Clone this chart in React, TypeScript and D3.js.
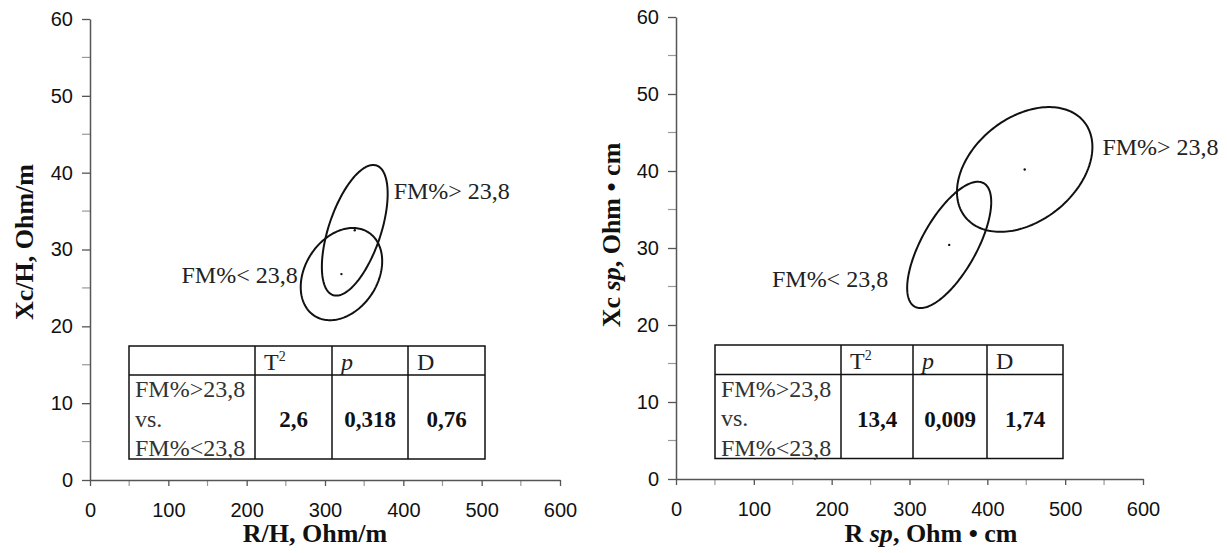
import React, { useEffect, useRef } from "react";
import * as d3 from "d3";

const xTicks = [0, 100, 200, 300, 400, 500, 600];
const yTicks = [0, 10, 20, 30, 40, 50, 60];
const xMinorTicks = [50, 150, 250, 350, 450, 550];
const yMinorTicks = [5, 15, 25, 35, 45, 55];
const groupLabels = ["FM%> 23,8", "FM%< 23,8"];

// left panel: R/H vs Xc/H (group means + confidence ellipse half-widths, correlation)
const leftMeanR = [338, 321];
const leftMeanXc = [32.5, 26.8];
const leftSpreadR = [42, 52];
const leftSpreadXc = [8.5, 6];
const leftCorr = [0.56, 0.28];

// right panel: R sp vs Xc sp
const rightMeanR = [448, 351];
const rightMeanXc = [40.2, 30.4];
const rightSpreadR = [87, 54];
const rightSpreadXc = [8.1, 8.2];
const rightCorr = [0.36, 0.68];

const statHeaders = ["", "T", "p", "D"];
const rowLines = ["FM%>23,8", "vs.", "FM%<23,8"];
const leftStats = ["2,6", "0,318", "0,76"];
const rightStats = ["13,4", "0,009", "1,74"];

const SERIF = "'Liberation Serif', 'Times New Roman', serif";
const SANS = "'Liberation Sans', Arial, sans-serif";

const panels = [
  {
    left: 90, right: 560, bottom: 480, top: 19,
    xTitle: [["R/H, Ohm/m", false]], xTitleX: 315,
    yTitle: [["Xc/H, Ohm/m", false]], yTitleX: 33, yTitleY: 242,
    meanR: leftMeanR, meanXc: leftMeanXc, spreadR: leftSpreadR, spreadXc: leftSpreadXc, corr: leftCorr,
    labelOffsets: [[6, 5], [-3, -4]],
    table: { x: 129, y: 346, cols: [126, 77, 76, 77], rows: [29, 84] },
    stats: leftStats
  },
  {
    left: 676, right: 1143, bottom: 479, top: 17,
    xTitle: [["R ", false], ["sp", true], [", Ohm \u2022 cm", false]], xTitleX: 931,
    yTitle: [["Xc ", false], ["sp", true], [", Ohm \u2022 cm", false]], yTitleX: 620, yTitleY: 235,
    meanR: rightMeanR, meanXc: rightMeanXc, spreadR: rightSpreadR, spreadXc: rightSpreadXc, corr: rightCorr,
    labelOffsets: [[10, 8], [-19, -1]],
    table: { x: 715, y: 345, cols: [126, 72, 74, 76], rows: [29.5, 84] },
    stats: rightStats
  }
];

function drawPanel(svg, p) {
  const g = svg.append("g");
  const x = d3.scaleLinear().domain([0, 600]).range([p.left, p.right]);
  const y = d3.scaleLinear().domain([0, 60]).range([p.bottom, p.top]);

  // minor ticks (lighter)
  g.selectAll(".xminor").data(xMinorTicks).join("line")
    .attr("x1", d => x(d)).attr("x2", d => x(d))
    .attr("y1", y(0)).attr("y2", y(0) + 6)
    .attr("stroke", "#999").attr("stroke-width", 1.2);
  g.selectAll(".yminor").data(yMinorTicks).join("line")
    .attr("x1", x(0) - 8).attr("x2", x(0))
    .attr("y1", d => y(d)).attr("y2", d => y(d))
    .attr("stroke", "#999").attr("stroke-width", 1.2);

  const yAxis = g.append("g")
    .attr("transform", `translate(${x(0)},0)`)
    .call(d3.axisLeft(y).tickValues(yTicks).tickSize(8).tickSizeOuter(0).tickPadding(9));
  const xAxis = g.append("g")
    .attr("transform", `translate(0,${y(0)})`)
    .call(d3.axisBottom(x).tickValues(xTicks).tickSize(6).tickSizeOuter(0));

  [xAxis, yAxis].forEach(a => {
    a.select(".domain").attr("stroke", "#555").attr("stroke-width", 1.5);
    a.selectAll(".tick line").attr("stroke", "#555").attr("stroke-width", 1.3);
    a.selectAll(".tick text")
      .attr("font-family", SANS).attr("font-size", 20).attr("fill", "#111");
  });
  xAxis.selectAll(".tick text").attr("y", 37).attr("dy", 0);

  // axis titles
  const xt = g.append("text")
    .attr("x", p.xTitleX).attr("y", 542)
    .attr("text-anchor", "middle")
    .attr("font-family", SERIF).attr("font-weight", "bold").attr("font-size", 26).attr("fill", "#111");
  p.xTitle.forEach(([t, it]) => xt.append("tspan").attr("font-style", it ? "italic" : "normal").text(t));

  const yt = g.append("text")
    .attr("transform", `translate(${p.yTitleX},${p.yTitleY}) rotate(-90)`)
    .attr("text-anchor", "middle")
    .attr("font-family", SERIF).attr("font-weight", "bold").attr("font-size", 26).attr("fill", "#111");
  p.yTitle.forEach(([t, it]) => yt.append("tspan").attr("font-style", it ? "italic" : "normal").text(t));

  // ellipses: x = cx + rx cos t, y = cy + ry cos(t - phi), cos(phi) = corr
  const angles = d3.range(0, 2 * Math.PI, Math.PI / 90);
  const line = d3.line().curve(d3.curveLinearClosed);
  p.meanR.forEach((cx, i) => {
    const cy = p.meanXc[i];
    const rx = p.spreadR[i];
    const ry = p.spreadXc[i];
    const phi = Math.acos(p.corr[i]);
    const pts = angles.map(t => [x(cx + rx * Math.cos(t)), y(cy + ry * Math.cos(t - phi))]);
    g.append("path").attr("d", line(pts))
      .attr("fill", "none").attr("stroke", "#111").attr("stroke-width", 2);
    g.append("circle").attr("cx", x(cx)).attr("cy", y(cy)).attr("r", 1.2).attr("fill", "#111");

    const [dx, dy] = p.labelOffsets[i];
    const upper = i === 0;
    const edgeX = upper ? cx + rx : cx - rx;
    const edgeY = upper ? cy + ry * p.corr[i] : cy - ry * p.corr[i];
    g.append("text")
      .attr("x", x(edgeX) + dx).attr("y", y(edgeY) + dy)
      .attr("text-anchor", upper ? "start" : "end")
      .attr("font-family", SERIF).attr("font-size", 24).attr("fill", "#222")
      .text(groupLabels[i]);
  });

  // stats table
  const tb = p.table;
  const colX = [tb.x];
  tb.cols.forEach(w => colX.push(colX[colX.length - 1] + w));
  const rowY = [tb.y, tb.y + tb.rows[0], tb.y + tb.rows[0] + tb.rows[1]];
  const t = g.append("g");
  t.append("rect")
    .attr("x", colX[0]).attr("y", rowY[0])
    .attr("width", colX[4] - colX[0]).attr("height", rowY[2] - rowY[0])
    .attr("fill", "#fff").attr("stroke", "#111").attr("stroke-width", 1.5);
  t.append("line").attr("x1", colX[0]).attr("x2", colX[4]).attr("y1", rowY[1]).attr("y2", rowY[1])
    .attr("stroke", "#111").attr("stroke-width", 1.5);
  colX.slice(1, 4).forEach(cx => {
    t.append("line").attr("x1", cx).attr("x2", cx).attr("y1", rowY[0]).attr("y2", rowY[2])
      .attr("stroke", "#111").attr("stroke-width", 1.5);
  });

  statHeaders.forEach((h, j) => {
    if (!h) return;
    const ht = t.append("text")
      .attr("x", colX[j] + 9).attr("y", rowY[0] + 24)
      .attr("font-family", SERIF).attr("font-size", 24).attr("fill", "#222");
    ht.append("tspan").attr("font-style", h === "p" ? "italic" : "normal").text(h);
    if (h === "T") ht.append("tspan").attr("font-size", 14).attr("dy", -9).text("2");
  });

  rowLines.forEach((r, k) => {
    t.append("text")
      .attr("x", colX[0] + 6).attr("y", rowY[1] + 22 + k * 29.5)
      .attr("font-family", SERIF).attr("font-size", 24).attr("fill", "#333")
      .text(r);
  });

  p.stats.forEach((s, j) => {
    t.append("text")
      .attr("x", (colX[j + 1] + colX[j + 2]) / 2).attr("y", rowY[1] + 52)
      .attr("text-anchor", "middle")
      .attr("font-family", SERIF).attr("font-weight", "bold").attr("font-size", 23).attr("fill", "#111")
      .text(s);
  });
}

export default function App() {
  const svgRef = useRef(null);

  useEffect(() => {
    const svg = d3.select(svgRef.current);
    svg.selectAll("*").remove();
    panels.forEach(p => drawPanel(svg, p));
  }, []);

  return (
    <svg
      ref={svgRef}
      width={1227}
      height={553}
      style={{ position: "absolute", left: 0, top: 0, background: "#fff" }}
    />
  );
}
